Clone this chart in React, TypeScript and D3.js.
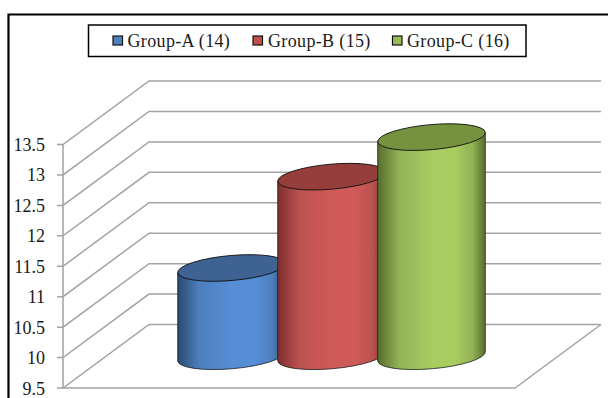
import React from "react";
import * as d3 from "d3";

// Mean value of each group, with the group sizes shown in the legend.
const groups = ["Group-A (14)", "Group-B (15)", "Group-C (16)"];
const values = [10.95, 12.45, 13.1];
const yTicks = [9.5, 10, 10.5, 11, 11.5, 12, 12.5, 13, 13.5];
const tickLabels = ["9.5", "10", "10.5", "11", "11.5", "12", "12.5", "13", "13.5"];

// Hues per series: edge shade, lit centre, mid tone, top cap, swatch.
const edgeShades = ["#2b4a70", "#7c2f2e", "#566e2c"];
const litShades = ["#558ed5", "#d05a58", "#a8cc60"];
const midShades = ["#4d7fbc", "#bb5250", "#93b256"];
const capShades = ["#3e6291", "#953e3c", "#77923f"];
const swatchShades = ["#4f81bd", "#c0504d", "#9bbb59"];

const FONT = "'Liberation Serif', 'Times New Roman', serif";

// Oblique projection of the chart floor: depth shifts points right and up.
const frontX = 63;
const frontRight = 515;
const depthX = 86;
const depthY = 63.5;

const y = d3.scaleLinear().domain([9.5, 13.5]).range([388, 144.5]);
const x = d3
  .scaleBand<number>()
  .domain(d3.range(groups.length))
  .range([181.5, 481.5]);

const RX = 54;
const RY = 12.5;
const TILT = -5;

function cylinderSide(cx: number, top: number, bottom: number) {
  const t = (TILT * Math.PI) / 180;
  const dx = RX * Math.cos(t);
  const dy = RX * Math.sin(t);
  const p = d3.path();
  p.moveTo(cx - dx, top - dy);
  p.lineTo(cx - dx, bottom - dy);
  const arc = `A${RX},${RY} ${TILT} 0 0 ${cx + dx},${bottom + dy}`;
  return `${p.toString()}${arc}L${cx + dx},${top + dy}Z`;
}

const legendSwatches = [113, 253, 392.5];
const legendText = [127.5, 268, 407];

export default function App() {
  const baseY = y(9.5) - depthY / 2;
  return (
    <svg
      width={608}
      height={398}
      style={{ position: "absolute", left: 0, top: 0, background: "#fff" }}
    >
      <defs>
        {groups.map((_, i) => (
          <linearGradient key={i} id={`side-${i}`} x1="0" x2="1" y1="0" y2="0">
            <stop offset="0" stopColor={edgeShades[i]} />
            <stop offset="0.2" stopColor={midShades[i]} />
            <stop offset="0.5" stopColor={litShades[i]} />
            <stop offset="0.72" stopColor={litShades[i]} />
            <stop offset="0.88" stopColor={midShades[i]} />
            <stop offset="1" stopColor={edgeShades[i]} />
          </linearGradient>
        ))}
      </defs>

      {/* outer border, running off the page at right and bottom */}
      <path d="M8.5,398V14.5H608" fill="none" stroke="#000" strokeWidth={2.2} />

      {/* back wall and side wall gridlines */}
      <g stroke="#a3a3a3" strokeWidth={1.5} fill="none">
        {yTicks.map((t) => (
          <path
            key={t}
            d={`M${frontX - 6},${y(t)}H${frontX}L${frontX + depthX},${y(t) - depthY}H${frontRight + depthX}`}
          />
        ))}
        <path d={`M${frontX},${y(13.5)}V${y(9.5)}H${frontRight}L${frontRight + depthX},${y(9.5) - depthY}`} />
      </g>

      {/* value axis labels */}
      <g fontFamily={FONT} fontSize={18} fill="#1a1a1a" textAnchor="end">
        {yTicks.map((t, i) => (
          <text key={t} x={45} y={y(t) + 6.5}>
            {tickLabels[i]}
          </text>
        ))}
      </g>

      {/* cylinders, left to right so each overlaps the previous */}
      {values.map((v, i) => {
        const cx = (x(i) as number) + x.bandwidth() / 2;
        const topY = y(v) - depthY / 2;
        return (
          <g key={groups[i]}>
            <path
              d={cylinderSide(cx, topY, baseY)}
              fill={`url(#side-${i})`}
              stroke="#1d1d1d"
              strokeWidth={0.8}
            />
            <ellipse
              cx={cx}
              cy={topY}
              rx={RX}
              ry={RY}
              transform={`rotate(${TILT} ${cx} ${topY})`}
              fill={capShades[i]}
              stroke="#111"
              strokeWidth={0.9}
            />
          </g>
        );
      })}

      {/* legend */}
      <rect x={88.5} y={25} width={437.5} height={31.5} fill="#fff" stroke="#000" strokeWidth={1.5} />
      <g fontFamily={FONT} fontSize={18} letterSpacing={0.35} fill="#1a1a1a">
        {groups.map((g, i) => (
          <g key={g}>
            <rect
              x={legendSwatches[i]}
              y={36}
              width={9.5}
              height={9}
              fill={swatchShades[i]}
              stroke="#111"
              strokeWidth={1.2}
            />
            <text x={legendText[i]} y={47}>
              {g}
            </text>
          </g>
        ))}
      </g>
    </svg>
  );
}
